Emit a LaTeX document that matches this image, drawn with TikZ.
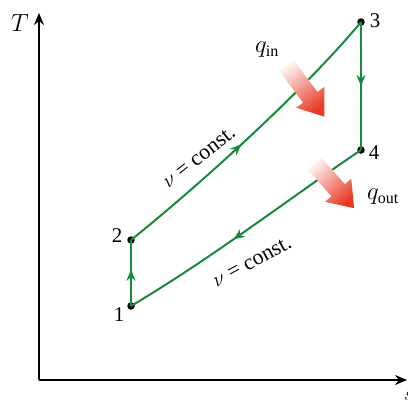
\documentclass[tikz,border=0pt]{standalone}
\usepackage{fontspec}
\setmainfont{Liberation Serif}
\usetikzlibrary{arrows.meta,decorations.markings}
\definecolor{cyc}{RGB}{22,138,58}
\definecolor{hot}{RGB}{232,58,38}
\definecolor{hotlight}{RGB}{253,238,234}
\tikzset{
  axisline/.style={line width=1.3bp,-{Stealth[length=12bp,width=10bp]}},
  proc/.style={draw=cyc,line width=2bp},
  midarrow/.style={postaction={decorate},decoration={markings,
     mark=at position #1 with {\arrow{Stealth[length=11bp,width=9bp,inset=3.5bp,fill=cyc]}}}},
  statept/.style={circle,fill=black,inner sep=0pt,minimum size=7.5bp},
  numlbl/.style={font=\fontsize{21}{23}\selectfont,inner sep=0pt},
  constlbl/.style={font=\fontsize{22}{24}\selectfont,inner sep=0pt},
  qlbl/.style={font=\fontsize{23}{25}\selectfont,inner sep=0pt},
  heatarrow/.style={top color=hotlight,bottom color=hot,draw=none},
}
\begin{document}
\begin{tikzpicture}[x=1bp,y=-1bp]
\useasboundingbox (0,0) rectangle (408,400);
% axes
\coordinate (O) at (39,380);
\coordinate (Ttip) at (39,13);
\coordinate (Stip) at (407,380);
\draw[axisline] (O) -- (Ttip);
\draw[axisline] (O) -- (Stip);
\node[numlbl,font=\fontsize{24}{26}\selectfont] (Tlab) at (20,23) {$T$};
\node[numlbl,anchor=north] (slab) at (409,391) {$s$};
% states
\node[statept] (p1) at (131,306) {};
\node[statept] (p2) at (131,240) {};
\node[statept] (p3) at (361,22) {};
\node[statept] (p4) at (361,150) {};
\node[numlbl] (l1) at (119,315) {1};
\node[numlbl] (l2) at (117,236) {2};
\node[numlbl] (l3) at (375,21) {3};
\node[numlbl] (l4) at (374,153) {4};
% processes
\draw[proc,midarrow=0.55] (p1.center) -- (p2.center);
\draw[proc,midarrow=0.46] (p2.center) .. controls (208,178) and (308,86) .. (p3.center);
\draw[proc,midarrow=0.5] (p3.center) -- (p4.center);
\draw[proc,midarrow=0.56] (p4.center) .. controls (290,198) and (212,258) .. (p1.center);
% labels
\node[constlbl,rotate=38] (c1) at (199,157) {$\nu$ = const.};
\node[constlbl,rotate=28.5] (c2) at (252,262) {$\nu$ = const.};
% heat arrows
\begin{scope}[shift={(287,66)},rotate=-53.5]
\shade[heatarrow,shading angle=36.5] (0,-9) -- (39,-9) -- (39,-17.5) -- (63,0) -- (39,17.5) -- (39,9) -- (0,9) -- cycle;
\end{scope}
\begin{scope}[shift={(315,164)},rotate=-48.5]
\shade[heatarrow,shading angle=41.5] (0,-9) -- (35,-9) -- (35,-17.5) -- (59,0) -- (35,17.5) -- (35,9) -- (0,9) -- cycle;
\end{scope}
\node[qlbl] (qin) at (267,50) {$q_{\mathrm{in}}$};
\node[qlbl] (qout) at (383,197) {$q_{\mathrm{out}}$};
\end{tikzpicture}
\end{document}
